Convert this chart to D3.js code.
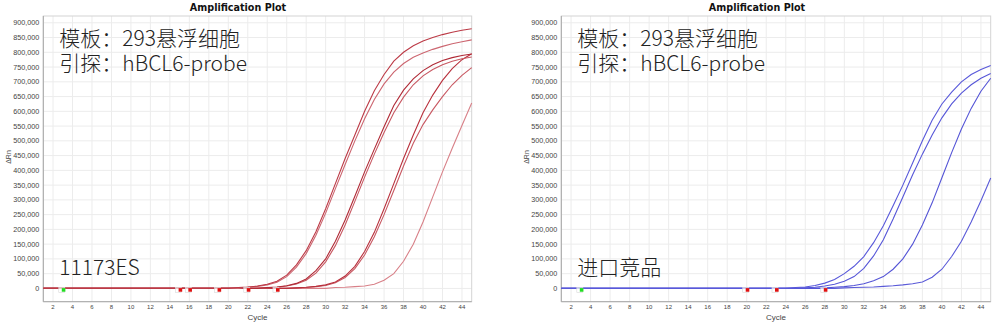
<!DOCTYPE html>
<html>
<head>
<meta charset="utf-8">
<script src="https://cdn.jsdelivr.net/npm/d3@7"></script>
<style>
	body { margin: 0; background: #fff; }
	svg { display: block; }
	.tick-y, .tick-x { font-family: "Liberation Sans", Arial, sans-serif; fill: #444; }
	.note { font-family: "Noto Sans CJK SC", "Noto Sans", sans-serif; font-weight: 300; fill: #222; }
</style>
</head>
<body>
<svg id="chart" width="994" height="323"></svg>
<script>
// cycles 1..45, values are dRn in thousands
var cycles = d3.range(1, 46);
var yTicks = [0, 50, 100, 150, 200, 250, 300, 350, 400, 450, 500, 550, 600, 650, 700, 750, 800, 850, 900];
var xTicks = [2, 4, 6, 8, 10, 12, 14, 16, 18, 20, 22, 24, 26, 28, 30, 32, 34, 36, 38, 40, 42, 44];

// left panel : 11173ES
var a1 = [0,0,0,0,0,0,0,0,0,0, 0,0,0,0,0,0,0,0,0,0, 3,5,8,14,24,45,80,128,192,270, 355,440,520,600,670,725,770,800,822,838, 850,860,868,875,880];
var a2 = [0,0,0,0,0,0,0,0,0,0, 0,0,0,0,0,0,0,0,0,0, 0,4,7,12,21,40,72,118,180,255, 338,420,500,575,640,693,733,762,783,798, 810,820,829,836,842];
var b1 = [0,0,0,0,0,0,0,0,0,0, 0,0,0,0,0,0,0,0,0,0, 0,0,0,3,5,9,17,32,60,100, 160,232,312,395,472,548,620,672,710,738, 758,772,782,789,794];
var b2 = [0,0,0,0,0,0,0,0,0,0, 0,0,0,0,0,0,0,0,0,0, 0,0,0,2,4,8,15,28,52,90, 145,215,295,377,455,528,595,648,690,720, 742,758,770,778,784];
var c1 = [0,0,0,0,0,0,0,0,0,0, 0,0,0,0,0,0,0,0,0,0, 0,0,0,0,0,0,2,4,7,12, 22,42,75,125,190,270,355,440,520,595, 655,705,745,775,795];
var c2 = [0,0,0,0,0,0,0,0,0,0, 0,0,0,0,0,0,0,0,0,0, 0,0,0,0,0,0,2,3,6,10, 19,37,67,113,175,250,332,415,492,555, 605,650,690,722,748];
var d1 = [0,0,0,0,0,0,0,0,0,0, 0,0,0,0,0,0,0,0,0,0, 0,0,0,0,0,0,0,0,0,0, 3,4,6,8,14,28,50,92,150,225, 310,395,475,552,628];

// right panel : 进口竞品
var e1 = [0,0,0,0,0,0,0,0,0,0, 0,0,0,0,0,0,0,0,0,0, 0,0,0,0,3,5,10,18,30,50, 75,108,155,212,280,350,425,500,570,625, 665,700,725,742,755];
var e2 = [0,0,0,0,0,0,0,0,0,0, 0,0,0,0,0,0,0,0,0,0, 0,0,0,0,0,2,4,8,14,24, 40,68,110,165,235,310,385,455,520,578, 625,662,690,712,728];
var e3 = [0,0,0,0,0,0,0,0,0,0, 0,0,0,0,0,0,0,0,0,0, 0,0,0,0,0,0,0,2,4,6, 10,16,26,40,65,100,150,215,290,375, 460,540,610,668,712];
var e4 = [0,0,0,0,0,0,0,0,0,0, 0,0,0,0,0,0,0,0,0,0, 0,0,0,0,0,0,0,0,0,2, 3,4,5,7,9,12,16,22,38,65, 108,160,225,297,374];

// baseline / threshold markers (cycle)
var leftStart = [3], leftEnd = [15, 16, 19, 22, 25];
var rightStart = [3], rightEnd = [20, 23, 28];

var panels = [
	{ left: 43.3, right: 471.7, titleX: 238, series: [d1, c2, c1, b2, b1, a2, a1],
	  colors: ["#d88088", "#c85862", "#b8303c", "#c85862", "#b02a36", "#cc6670", "#bc3a46"],
	  start: leftStart, end: leftEnd, lines: ["模板：293悬浮细胞", "引探：hBCL6-probe"], label: "11173ES" },
	{ left: 561.3, right: 990.7, titleX: 757, series: [e4, e3, e2, e1],
	  colors: ["#5a5ad8", "#5454d6", "#5656d8", "#5858da"],
	  start: rightStart, end: rightEnd, lines: ["模板：293悬浮细胞", "引探：hBCL6-probe"], label: "进口竞品" }
];

var svg = d3.select("#chart");
var plotTop = 16, plotBottom = 301.7;

//-------------------------
function drawPanel(p) {
	var g = svg.append("g");
	var x = d3.scaleLinear().domain([1, 45]).range([p.left, p.right]);
	var y = d3.scaleLinear().domain([-45, 923]).range([plotBottom, plotTop]);

	// grid
	g.selectAll(".gx").data(xTicks).enter().append("line")
		.attr("x1", d => x(d)).attr("x2", d => x(d))
		.attr("y1", plotTop).attr("y2", plotBottom)
		.attr("stroke", "#ececec").attr("stroke-width", 1);
	g.selectAll(".gy").data(yTicks).enter().append("line")
		.attr("x1", p.left).attr("x2", p.right)
		.attr("y1", d => y(d)).attr("y2", d => y(d))
		.attr("stroke", "#ececec").attr("stroke-width", 1);

	g.append("rect")
		.attr("x", p.left).attr("y", plotTop)
		.attr("width", p.right - p.left).attr("height", plotBottom - plotTop)
		.attr("fill", "none").attr("stroke", "#d4d4d4");
	g.append("line")
		.attr("x1", p.left).attr("x2", p.left).attr("y1", plotTop).attr("y2", plotBottom)
		.attr("stroke", "#a8a8a8");
	g.append("line")
		.attr("x1", p.left).attr("x2", p.right).attr("y1", plotBottom).attr("y2", plotBottom)
		.attr("stroke", "#a8a8a8");

	// axes labels
	g.selectAll(".ty").data(yTicks).enter().append("text")
		.attr("class", "tick-y")
		.attr("x", p.left - 4).attr("y", d => y(d) + 2.5)
		.attr("text-anchor", "end").attr("font-size", 7.2)
		.text(d => d3.format(",")(d * 1000));
	g.selectAll(".tx").data(xTicks).enter().append("text")
		.attr("class", "tick-x")
		.attr("x", d => x(d)).attr("y", 309)
		.attr("text-anchor", "middle").attr("font-size", 6)
		.text(d => d);

	g.append("text")
		.attr("x", (p.left + p.right) / 2).attr("y", 319.5)
		.attr("text-anchor", "middle")
		.style("font-family", "Liberation Sans, Arial, sans-serif")
		.style("font-size", "8px").style("fill", "#444")
		.text("Cycle");
	g.append("text")
		.attr("transform", "translate(" + (p.left - 32) + ",157) rotate(-90)")
		.attr("text-anchor", "middle")
		.style("font-family", "Liberation Sans, Arial, sans-serif")
		.style("font-size", "7px").style("fill", "#444")
		.text("ΔRn");
	g.append("text")
		.attr("x", p.titleX).attr("y", 11)
		.attr("text-anchor", "middle")
		.style("font-family", "DejaVu Sans, Verdana, sans-serif")
		.style("font-weight", "bold").style("font-size", "9.6px").style("fill", "#111")
		.text("Amplification Plot");

	// curves
	var line = d3.line().x((d, i) => x(cycles[i])).y(d => y(d));
	p.series.forEach(function (s, k) {
		g.append("path")
			.datum(s)
			.attr("d", line)
			.attr("fill", "none")
			.attr("stroke", p.colors[k])
			.attr("stroke-width", 1.1);
	});

	// markers on the baseline
	function marker(c, col) {
		var cx = x(c), cy = y(0) + 1.5;
		g.append("rect").attr("x", cx - 4).attr("y", cy - 2.5).attr("width", 6).attr("height", 5)
			.attr("fill", "#fff").attr("fill-opacity", 0.7).attr("stroke", "#d8d8d8").attr("stroke-width", 0.6);
		g.append("rect").attr("x", cx - 1).attr("y", cy - 1.8).attr("width", 3.6).attr("height", 3.6)
			.attr("fill", col);
	}
	p.start.forEach(c => marker(c, "#22dd22"));
	p.end.forEach(c => marker(c, "#e01010"));

	// notes
	g.selectAll(".note-line").data(p.lines).enter().append("text")
		.attr("class", "note")
		.attr("x", p.left + 16).attr("y", (d, i) => 46 + i * 25)
		.attr("font-size", 21)
		.text(d => d);
	g.append("text")
		.attr("class", "note")
		.attr("x", p.left + 16).attr("y", 275)
		.attr("font-size", 21)
		.text(p.label);
}

panels.forEach(drawPanel);
</script>
</body>
</html>
